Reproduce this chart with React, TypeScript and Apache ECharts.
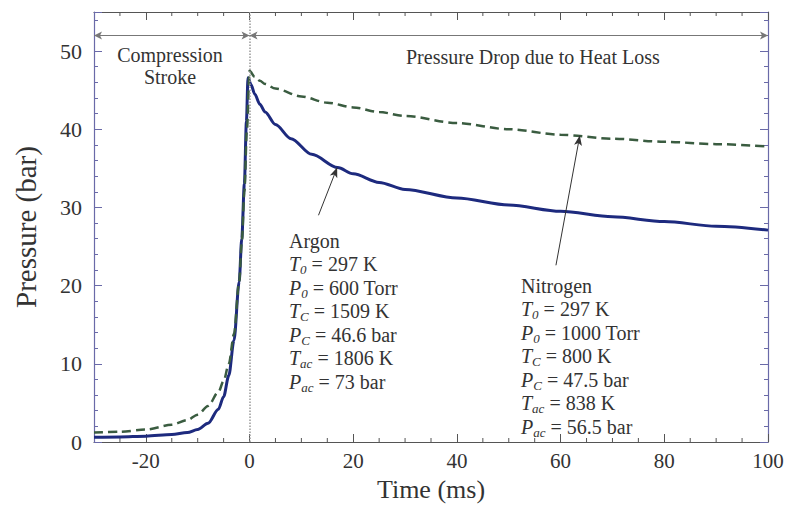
import React, { useEffect, useRef } from "react";
import * as echarts from "echarts";

// ---- data ----
const argonTime = [-30, -25, -20, -15, -12, -10, -8, -6, -5, -4, -3, -2, -1.5, -1, -0.6, -0.3, 0.3, 1, 2, 3, 5, 8, 12, 17, 20, 25, 30, 40, 50, 60, 70, 80, 90, 100];
const argonPressure = [0.6, 0.65, 0.75, 0.95, 1.2, 1.6, 2.4, 4.2, 5.8, 8.5, 13, 20.5, 26, 33, 41, 46.6, 45.7, 44.5, 43.2, 42.2, 40.6, 38.8, 36.8, 35.1, 34.3, 33.2, 32.3, 31.2, 30.3, 29.5, 28.8, 28.2, 27.6, 27.1];

const nitrogenTime = [-30, -25, -20, -15, -12, -10, -8, -6, -5, -4, -3, -2, -1.5, -1, -0.5, 0, 1, 2, 3, 5, 10, 15, 20, 25, 30, 40, 50, 60, 70, 80, 90, 100];
const nitrogenPressure = [1.2, 1.3, 1.6, 2.2, 2.8, 3.5, 4.6, 6.4, 7.8, 10, 13.8, 20.5, 25.5, 32, 40, 47.5, 46.7, 46.2, 45.8, 45.2, 44.2, 43.4, 42.8, 42.2, 41.7, 40.8, 40.0, 39.3, 38.8, 38.4, 38.1, 37.8];

const xMin = -30;
const xMax = 100;
const xMajorTicks = [-20, 0, 20, 40, 60, 80, 100];
const xMinorTicks = [-25, -15, -10, -5, 5, 10, 15, 25, 30, 35, 45, 50, 55, 65, 70, 75, 85, 90, 95];
const yMin = 0;
const yMax = 55;
const yInterval = 10;

const phaseLevel = 52.0;
const phaseBounds = [-30, 0, 100];
const phaseLabels = ["Compression\nStroke", "Pressure Drop due to Heat Loss"];

// arrows: [tailTime, tailPressure, tipTime, tipPressure]
const argonArrow = [13.3, 29.0, 16.9, 35.1];
const nitrogenArrow = [59.1, 22.6, 63.7, 39.2];

const argonLines = [
  "{n|Argon}",
  "{i|T}{s|0}{n| = 297 K}",
  "{i|P}{s|0}{n| = 600 Torr}",
  "{i|T}{s|C}{n| = 1509 K}",
  "{i|P}{s|C}{n| = 46.6 bar}",
  "{i|T}{s|ac}{n| = 1806 K}",
  "{i|P}{s|ac}{n| = 73 bar}",
];
const nitrogenLines = [
  "{n|Nitrogen}",
  "{i|T}{s|0}{n| = 297 K}",
  "{i|P}{s|0}{n| = 1000 Torr}",
  "{i|T}{s|C}{n| = 800 K}",
  "{i|P}{s|C}{n| = 47.5 bar}",
  "{i|T}{s|ac}{n| = 838 K}",
  "{i|P}{s|ac}{n| = 56.5 bar}",
];

const FONT = "'Liberation Serif', 'Times New Roman', serif";
const TEXT = "#333";
const X_AXIS_COLOR = "#555";
const Y_AXIS_COLOR = "#6a6aa8";

const zip = (a: number[], b: number[]) => a.map((v, i) => [v, b[i]]);

export default function App() {
  const ref = useRef<HTMLDivElement>(null);
  useEffect(() => {
    document.body.style.margin = "0";
    const chart = echarts.init(ref.current!, null, { renderer: "svg" });

    const rich = {
      n: { fontFamily: FONT, fontSize: 20, color: TEXT, lineHeight: 23.5 },
      i: { fontFamily: FONT, fontSize: 20, fontStyle: "italic", color: TEXT, lineHeight: 23.5 },
      s: { fontFamily: FONT, fontSize: 13, fontStyle: "italic", color: TEXT, lineHeight: 12, verticalAlign: "bottom" },
    };

    const xMajor = {
      type: "value",
      min: xMin,
      max: xMax,
      splitLine: { show: false },
      axisTick: { show: true, inside: true, length: 8, customValues: xMajorTicks, lineStyle: { color: X_AXIS_COLOR } },
      axisLine: { show: true, onZero: false, lineStyle: { color: X_AXIS_COLOR, width: 1.2 } },
    };
    const yCommon = {
      type: "value",
      min: yMin,
      max: yMax,
      interval: yInterval,
      splitLine: { show: false },
      axisTick: { show: true, inside: true, length: 8, lineStyle: { color: Y_AXIS_COLOR } },
      minorTick: { show: true, splitNumber: 5, length: 4, lineStyle: { color: Y_AXIS_COLOR } },
      axisLine: { show: true, onZero: false, lineStyle: { color: Y_AXIS_COLOR, width: 1.2 } },
    };

    const option: any = {
      animation: false,
      backgroundColor: "#fff",
      grid: { left: 94, right: 18, top: 12, bottom: 69, containLabel: false, outerBoundsMode: "none" },
      xAxis: [
        {
          ...xMajor,
          position: "bottom",
          name: "Time (ms)",
          nameLocation: "middle",
          nameGap: 34,
          nameTextStyle: { fontFamily: FONT, fontSize: 26, color: TEXT },
          axisLabel: {
            fontFamily: FONT,
            fontSize: 21,
            color: TEXT,
            margin: 8,
            customValues: xMajorTicks,
          },
        },
        { ...xMajor, position: "top", axisLabel: { show: false } },
      ],
      yAxis: [
        {
          ...yCommon,
          position: "left",
          name: "Pressure (bar)",
          nameLocation: "middle",
          nameGap: 54,
          nameRotate: 90,
          nameTextStyle: { fontFamily: FONT, fontSize: 29, color: TEXT },
          axisLabel: { fontFamily: FONT, fontSize: 22, color: TEXT, margin: 12, showMaxLabel: false },
        },
        { ...yCommon, position: "right", axisLabel: { show: false } },
      ],
      series: [
        {
          name: "xMinorTicks",
          type: "custom",
          xAxisIndex: 0,
          yAxisIndex: 0,
          silent: true,
          clip: false,
          data: xMinorTicks.map((v) => [v, yMin]),
          renderItem: (params: any, api: any) => {
            const v = api.value(0);
            const b = api.coord([v, yMin]);
            const t = api.coord([v, yMax]);
            const style = { stroke: X_AXIS_COLOR, lineWidth: 1 };
            return {
              type: "group",
              children: [
                { type: "line", shape: { x1: b[0], y1: b[1], x2: b[0], y2: b[1] - 4 }, style },
                { type: "line", shape: { x1: t[0], y1: t[1], x2: t[0], y2: t[1] + 4 }, style },
              ],
            };
          },
          z: 1,
        },
        {
          name: "Nitrogen",
          type: "line",
          xAxisIndex: 0,
          yAxisIndex: 0,
          data: zip(nitrogenTime, nitrogenPressure),
          showSymbol: false,
          smooth: 0.3,
          smoothMonotone: "x",
          lineStyle: { color: "#3a5c40", width: 2.5, type: [9, 5] },
          z: 3,
        },
        {
          name: "Argon",
          type: "line",
          xAxisIndex: 0,
          yAxisIndex: 0,
          data: zip(argonTime, argonPressure),
          showSymbol: false,
          smooth: 0.3,
          smoothMonotone: "x",
          lineStyle: { color: "#1d2a7e", width: 3 },
          z: 2,
          markLine: {
            silent: true,
            animation: false,
            label: { show: false },
            data: [
              [
                { xAxis: 0, yAxis: yMin, symbol: "none", lineStyle: { color: "#999", type: "dotted", width: 1.5 } },
                { xAxis: 0, yAxis: yMax, symbol: "none" },
              ],
              [
                { coord: [phaseBounds[0], phaseLevel], symbol: "arrow", symbolSize: [6, 8], lineStyle: { color: "#777", type: "solid", width: 1.2 } },
                { coord: [phaseBounds[1], phaseLevel], symbol: "arrow", symbolSize: [6, 8] },
              ],
              [
                { coord: [phaseBounds[1], phaseLevel], symbol: "arrow", symbolSize: [6, 8], lineStyle: { color: "#777", type: "solid", width: 1.2 } },
                { coord: [phaseBounds[2], phaseLevel], symbol: "arrow", symbolSize: [6, 8] },
              ],
              [
                { coord: [argonArrow[0], argonArrow[1]], symbol: "none", lineStyle: { color: "#333", type: "solid", width: 1 } },
                { coord: [argonArrow[2], argonArrow[3]], symbol: "arrow", symbolSize: [6, 10] },
              ],
              [
                { coord: [nitrogenArrow[0], nitrogenArrow[1]], symbol: "none", lineStyle: { color: "#333", type: "solid", width: 1 } },
                { coord: [nitrogenArrow[2], nitrogenArrow[3]], symbol: "arrow", symbolSize: [6, 10] },
              ],
            ],
          },
        },
      ],
      graphic: [
        {
          type: "text",
          x: 170,
          y: 44,
          style: { text: phaseLabels[0], fontFamily: FONT, fontSize: 20, fill: TEXT, align: "center", textAlign: "center", lineHeight: 22 },
        },
        {
          type: "text",
          left: 406,
          top: 47,
          style: { text: phaseLabels[1], fontFamily: FONT, fontSize: 20, fill: TEXT },
        },
        {
          type: "text",
          left: 289,
          top: 229,
          style: { text: argonLines.join("\n"), rich, fontFamily: FONT, fontSize: 20, fill: TEXT, lineHeight: 23.5 },
        },
        {
          type: "text",
          left: 521,
          top: 274,
          style: { text: nitrogenLines.join("\n"), rich, fontFamily: FONT, fontSize: 20, fill: TEXT, lineHeight: 23.5 },
        },
      ],
    };
    chart.setOption(option);
    return () => chart.dispose();
  }, []);
  return <div ref={ref} style={{ width: 786, height: 511 }} />;
}
